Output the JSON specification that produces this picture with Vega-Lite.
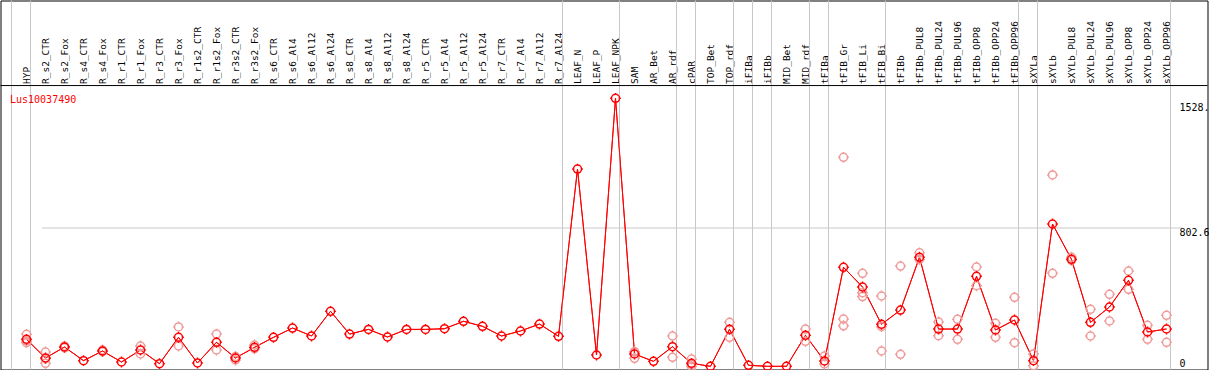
{
  "$schema": "https://vega.github.io/schema/vega-lite/v6.json",
  "width": 1207,
  "height": 369,
  "autosize": {"type": "none"},
  "padding": {"left": 0.5, "top": 0.5, "right": 1.5, "bottom": 0.5},
  "background": "white",
  "title": {
    "text": "Lus10037490",
    "anchor": "start",
    "frame": "group",
    "orient": "top",
    "offset": -113,
    "dx": 9.5,
    "baseline": "alphabetic",
    "color": "#ff0000",
    "font": "DejaVu Sans Mono",
    "fontSize": 10,
    "fontWeight": "normal"
  },
  "datasets": {
    "means": [
      {"sample": "HYP", "value": 157.6},
      {"sample": "R_s2_CTR", "value": 49.3},
      {"sample": "R_s2_Fox", "value": 113},
      {"sample": "R_s4_CTR", "value": 33.8},
      {"sample": "R_s4_Fox", "value": 89.8},
      {"sample": "R_r1_CTR", "value": 26.1},
      {"sample": "R_r1_Fox", "value": 95.6},
      {"sample": "R_r3_CTR", "value": 16.4},
      {"sample": "R_r3_Fox", "value": 169},
      {"sample": "R_r1s2_CTR", "value": 20.3},
      {"sample": "R_r1s2_Fox", "value": 140},
      {"sample": "R_r3s2_CTR", "value": 49.3},
      {"sample": "R_r3s2_Fox", "value": 111},
      {"sample": "R_s6_CTR", "value": 169},
      {"sample": "R_s6_Al4", "value": 223},
      {"sample": "R_s6_Al12", "value": 176.7},
      {"sample": "R_s6_Al24", "value": 320},
      {"sample": "R_s8_CTR", "value": 188},
      {"sample": "R_s8_Al4", "value": 215},
      {"sample": "R_s8_Al12", "value": 171},
      {"sample": "R_s8_Al24", "value": 215},
      {"sample": "R_r5_CTR", "value": 215},
      {"sample": "R_r5_Al4", "value": 219},
      {"sample": "R_r5_Al12", "value": 262},
      {"sample": "R_r5_Al24", "value": 233},
      {"sample": "R_r7_CTR", "value": 176.7},
      {"sample": "R_r7_Al4", "value": 205.7},
      {"sample": "R_r7_Al12", "value": 246},
      {"sample": "R_r7_Al24", "value": 175},
      {"sample": "LEAF_N", "value": 1144},
      {"sample": "LEAF_P", "value": 66.6},
      {"sample": "LEAF_NPK", "value": 1554},
      {"sample": "SAM", "value": 72.4},
      {"sample": "AR_Bet", "value": 30},
      {"sample": "AR_rdf", "value": 114.8},
      {"sample": "cPAR", "value": 18.5},
      {"sample": "TOP_Bet", "value": 1},
      {"sample": "TOP_rdf", "value": 215.6},
      {"sample": "iFIBa", "value": 7},
      {"sample": "iFIBb", "value": 1},
      {"sample": "MID_Bet", "value": 1},
      {"sample": "MID_rdf", "value": 180.8},
      {"sample": "tFIBa", "value": 31.9},
      {"sample": "tFIB_Gr", "value": 575},
      {"sample": "tFIB_Li", "value": 460.7},
      {"sample": "tFIB_Bi", "value": 244.5},
      {"sample": "tFIBb", "value": 327},
      {"sample": "tFIBb_PUL8", "value": 633},
      {"sample": "tFIBb_PUL24", "value": 217},
      {"sample": "tFIBb_PUL96", "value": 217},
      {"sample": "tFIBb_OPP8", "value": 522.7},
      {"sample": "tFIBb_OPP24", "value": 211.5},
      {"sample": "tFIBb_OPP96", "value": 269.5},
      {"sample": "sXYLa", "value": 33.8},
      {"sample": "sXYLb", "value": 825.8},
      {"sample": "sXYLb_PUL8", "value": 621},
      {"sample": "sXYLb_PUL24", "value": 256},
      {"sample": "sXYLb_PUL96", "value": 344.8},
      {"sample": "sXYLb_OPP8", "value": 499.5},
      {"sample": "sXYLb_OPP24", "value": 200},
      {"sample": "sXYLb_OPP96", "value": 217.3}
    ],
    "reps": [
      {"sample": "HYP", "value": 186.6}, {"sample": "HYP", "value": 138}, {"sample": "HYP", "value": 148},
      {"sample": "R_s2_CTR", "value": 84}, {"sample": "R_s2_CTR", "value": 18.5}, {"sample": "R_s2_CTR", "value": 45.4},
      {"sample": "R_s2_Fox", "value": 108}, {"sample": "R_s2_Fox", "value": 118},
      {"sample": "R_s4_Fox", "value": 95.6}, {"sample": "R_s4_Fox", "value": 86},
      {"sample": "R_r1_Fox", "value": 118.8}, {"sample": "R_r1_Fox", "value": 72.4},
      {"sample": "R_r3_Fox", "value": 229}, {"sample": "R_r3_Fox", "value": 118.8},
      {"sample": "R_r1s2_Fox", "value": 188}, {"sample": "R_r1s2_Fox", "value": 95.6},
      {"sample": "R_r3s2_CTR", "value": 37.7}, {"sample": "R_r3s2_CTR", "value": 58},
      {"sample": "R_r3s2_Fox", "value": 124.6}, {"sample": "R_r3s2_Fox", "value": 103},
      {"sample": "SAM", "value": 85.8}, {"sample": "SAM", "value": 47.5}, {"sample": "SAM", "value": 84},
      {"sample": "AR_rdf", "value": 176.7}, {"sample": "AR_rdf", "value": 53},
      {"sample": "cPAR", "value": 43.5}, {"sample": "cPAR", "value": 0}, {"sample": "cPAR", "value": 12},
      {"sample": "TOP_rdf", "value": 256}, {"sample": "TOP_rdf", "value": 169},
      {"sample": "MID_rdf", "value": 217}, {"sample": "MID_rdf", "value": 146},
      {"sample": "tFIBa", "value": 60.8}, {"sample": "tFIBa", "value": 14.5},
      {"sample": "tFIB_Gr", "value": 1212}, {"sample": "tFIB_Gr", "value": 275}, {"sample": "tFIB_Gr", "value": 236},
      {"sample": "tFIB_Li", "value": 540}, {"sample": "tFIB_Li", "value": 428}, {"sample": "tFIB_Li", "value": 405},
      {"sample": "tFIB_Bi", "value": 408.5}, {"sample": "tFIB_Bi", "value": 230.6}, {"sample": "tFIB_Bi", "value": 89.8},
      {"sample": "tFIBb", "value": 582}, {"sample": "tFIBb", "value": 70.7},
      {"sample": "tFIBb_PUL8", "value": 659}, {"sample": "tFIBb_PUL8", "value": 620},
      {"sample": "tFIBb_PUL24", "value": 258}, {"sample": "tFIBb_PUL24", "value": 178.5},
      {"sample": "tFIBb_PUL96", "value": 273.5}, {"sample": "tFIBb_PUL96", "value": 157.6},
      {"sample": "tFIBb_OPP8", "value": 576.6}, {"sample": "tFIBb_OPP8", "value": 468},
      {"sample": "tFIBb_OPP24", "value": 250}, {"sample": "tFIBb_OPP24", "value": 169},
      {"sample": "tFIBb_OPP96", "value": 401}, {"sample": "tFIBb_OPP96", "value": 138},
      {"sample": "sXYLa", "value": 72}, {"sample": "sXYLa", "value": 4.6},
      {"sample": "sXYLb", "value": 1110}, {"sample": "sXYLb", "value": 540},
      {"sample": "sXYLb_PUL8", "value": 633}, {"sample": "sXYLb_PUL8", "value": 615},
      {"sample": "sXYLb_PUL24", "value": 331.5}, {"sample": "sXYLb_PUL24", "value": 176.7},
      {"sample": "sXYLb_PUL96", "value": 418}, {"sample": "sXYLb_PUL96", "value": 263.7},
      {"sample": "sXYLb_OPP8", "value": 553.4}, {"sample": "sXYLb_OPP8", "value": 447},
      {"sample": "sXYLb_OPP24", "value": 238.7}, {"sample": "sXYLb_OPP24", "value": 157.6},
      {"sample": "sXYLb_OPP96", "value": 296.7}, {"sample": "sXYLb_OPP96", "value": 140}
    ],
    "seps": [
      {"sample": "HYP"}, {"sample": "R_r7_Al24"}, {"sample": "LEAF_NPK"}, {"sample": "AR_rdf"},
      {"sample": "cPAR"}, {"sample": "TOP_rdf"}, {"sample": "iFIBa"}, {"sample": "iFIBb"},
      {"sample": "MID_rdf"}, {"sample": "tFIBa"}, {"sample": "tFIB_Bi"}, {"sample": "tFIBb_OPP96"},
      {"sample": "sXYLa"}, {"sample": "sXYLb_OPP96"}
    ]
  },
  "layer": [
    {
      "data": {"name": "means"},
      "mark": {"type": "line", "color": "#ff0000", "strokeWidth": 1},
      "encoding": {
        "x": {"field": "sample", "type": "nominal", "title": null,
          "scale": {"type": "point", "padding": 0, "range": [26, 1166],
            "domain": ["HYP","R_s2_CTR","R_s2_Fox","R_s4_CTR","R_s4_Fox","R_r1_CTR","R_r1_Fox","R_r3_CTR","R_r3_Fox","R_r1s2_CTR","R_r1s2_Fox","R_r3s2_CTR","R_r3s2_Fox","R_s6_CTR","R_s6_Al4","R_s6_Al12","R_s6_Al24","R_s8_CTR","R_s8_Al4","R_s8_Al12","R_s8_Al24","R_r5_CTR","R_r5_Al4","R_r5_Al12","R_r5_Al24","R_r7_CTR","R_r7_Al4","R_r7_Al12","R_r7_Al24","LEAF_N","LEAF_P","LEAF_NPK","SAM","AR_Bet","AR_rdf","cPAR","TOP_Bet","TOP_rdf","iFIBa","iFIBb","MID_Bet","MID_rdf","tFIBa","tFIB_Gr","tFIB_Li","tFIB_Bi","tFIBb","tFIBb_PUL8","tFIBb_PUL24","tFIBb_PUL96","tFIBb_OPP8","tFIBb_OPP24","tFIBb_OPP96","sXYLa","sXYLb","sXYLb_PUL8","sXYLb_PUL24","sXYLb_PUL96","sXYLb_OPP8","sXYLb_OPP24","sXYLb_OPP96"]},
          "axis": {"orient": "top", "offset": -85, "labelAngle": -90,
            "labelAlign": "left", "labelBaseline": "middle", "labelPadding": 2,
            "ticks": false, "domain": false, "grid": false, "labelOverlap": false,
            "labelFont": "DejaVu Sans Mono", "labelFontSize": 9.5, "labelColor": "#000000", "labelLimit": 200}},
        "y": {"field": "value", "type": "quantitative", "title": null,
          "scale": {"domain": [-17.38, 2120.9], "nice": false, "zero": false},
          "axis": {"orient": "right", "offset": -37, "values": [0, 802.6, 1528.4],
            "labelExpr": "'' + datum.value",
            "labelAlign": "left", "labelPadding": 8.5,
            "labelBaseline": {"condition": {"test": "datum.value == 0", "value": "alphabetic"}, "value": "top"},
            "labelFlush": false, "labelOverlap": false,
            "labelFont": "DejaVu Sans Mono", "labelFontSize": 10, "labelColor": "#000000",
            "ticks": false, "domain": false, "grid": true,
            "gridColor": "#c8c8c8", "gridWidth": 1,
            "gridOpacity": {"condition": {"test": "datum.value == 802.6", "value": 1}, "value": 0}}}
      }
    },
    {
      "data": {"name": "seps"},
      "mark": {"type": "rule", "color": "#c8c8c8", "strokeWidth": 1, "xOffset": 4},
      "encoding": {
        "x": {"field": "sample", "type": "nominal", "title": null}
      }
    },
    {
      "data": {"values": [{}]},
      "mark": {"type": "rule", "color": "#c8c8c8", "strokeWidth": 1, "xOffset": -15},
      "encoding": {
        "x": {"datum": "HYP", "type": "nominal", "title": null}
      }
    },
    {
      "data": {"values": [{}]},
      "mark": {"type": "rule", "color": "#000000", "strokeWidth": 1},
      "encoding": {
        "y": {"datum": 1628, "type": "quantitative", "title": null}
      }
    },
    {
      "data": {"name": "means"},
      "mark": {"type": "line", "color": "#ff0000", "strokeWidth": 1},
      "encoding": {
        "x": {"field": "sample", "type": "nominal", "title": null},
        "y": {"field": "value", "type": "quantitative", "title": null}
      }
    },
    {
      "data": {"name": "reps"},
      "mark": {"type": "point", "filled": false, "stroke": "#f09a9a", "strokeWidth": 1.5, "opacity": 1,
        "shape": "M1,0A1,1,0,1,1,-1,0A1,1,0,1,1,1,0M0,-1L0,-1.35M0,1L0,1.35M-1,0L-1.35,0M1,0L1.35,0", "size": 64},
      "encoding": {
        "x": {"field": "sample", "type": "nominal", "title": null},
        "y": {"field": "value", "type": "quantitative", "title": null}
      }
    },
    {
      "data": {"name": "means"},
      "mark": {"type": "point", "filled": false, "stroke": "#ff0000", "strokeWidth": 1.5, "opacity": 1,
        "shape": "M1,0A1,1,0,1,1,-1,0A1,1,0,1,1,1,0M0,-1L0,-1.35M0,1L0,1.35M-1,0L-1.35,0M1,0L1.35,0", "size": 64},
      "encoding": {
        "x": {"field": "sample", "type": "nominal", "title": null},
        "y": {"field": "value", "type": "quantitative", "title": null}
      }
    }
  ],
  "config": {
    "view": {"stroke": "#000000", "strokeWidth": 1, "fill": "white"},
    "font": "DejaVu Sans Mono"
  }
}
